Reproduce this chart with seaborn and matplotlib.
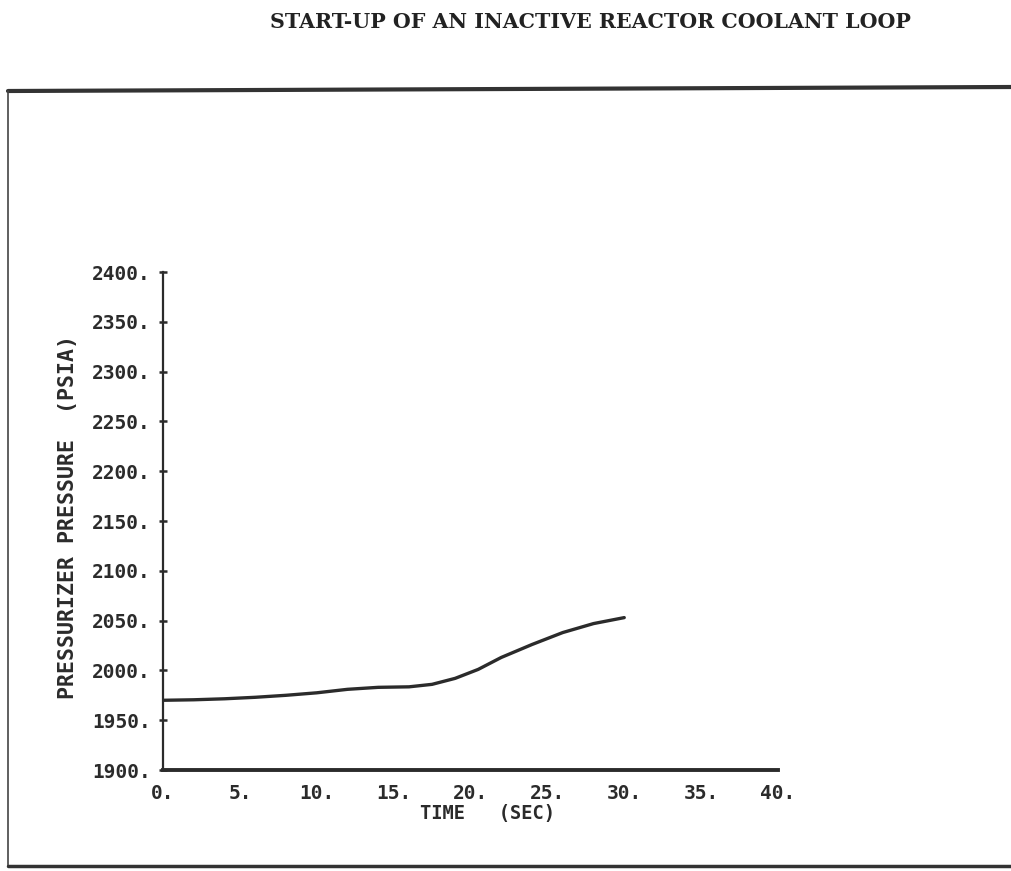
import matplotlib
matplotlib.use("Agg")
import matplotlib.pyplot as plt
from matplotlib.lines import Line2D
import seaborn as sns
import pandas as pd

# ---- data ----
time_sec = [0.0, 2.0, 4.0, 6.0, 8.0, 10.0, 12.0, 14.0, 16.0, 17.5, 19.0,
            20.5, 22.0, 24.0, 26.0, 28.0, 30.0]
pressure_psia = [1970, 1970.5, 1971.5, 1973, 1975, 1977.5, 1981, 1983, 1983.5,
                 1986, 1992, 2001, 2013, 2026, 2038, 2047, 2053]
x_ticks = [0, 5, 10, 15, 20, 25, 30, 35, 40]
y_ticks = [1900, 1950, 2000, 2050, 2100, 2150, 2200, 2250, 2300, 2350, 2400]
title = "START-UP OF AN INACTIVE REACTOR COOLANT LOOP"
x_label = "TIME   (SEC)"
y_label = "PRESSURIZER PRESSURE  (PSIA)"

sns.set_style("white")
plt.rcParams["font.family"] = ["DejaVu Sans Mono", "DejaVu Sans"]
ink = "#2b2b2b"

fig = plt.figure(figsize=(10.11, 8.71), dpi=100)
W, H = 1011, 871
ax = fig.add_axes([163 / W, 1 - 770 / H, 615 / W, 498 / H])

df = pd.DataFrame({"t": time_sec, "p": pressure_psia})
sns.lineplot(data=df, x="t", y="p", ax=ax, color=ink, linewidth=2.4)

ax.set_xlim(0, 40)
ax.set_ylim(1900, 2400)
ax.set_xticks(x_ticks)
ax.set_xticklabels([f"{v}." for v in x_ticks])
ax.set_yticks(y_ticks)
ax.set_yticklabels([f"{v}." for v in y_ticks])

for side in ("top", "right"):
    ax.spines[side].set_visible(False)
ax.spines["left"].set_linewidth(1.6)
ax.spines["bottom"].set_linewidth(2.8)
for side in ("left", "bottom"):
    ax.spines[side].set_color(ink)

ax.tick_params(axis="y", left=True, direction="inout", length=6, width=1.8,
               color=ink, pad=6.0, labelsize=14, labelcolor=ink)
ax.tick_params(axis="x", bottom=False, length=0, pad=10, labelsize=14,
               labelcolor=ink)
for lab in ax.get_xticklabels() + ax.get_yticklabels():
    lab.set_fontweight("bold")

ax.set_xlabel(x_label, fontsize=13.5, fontweight="bold", color=ink, va="center")
ax.xaxis.set_label_coords((488 - 163) / 615, -(813 - 770) / 498)
ax.set_ylabel(y_label, fontsize=15.5, fontweight="bold", color=ink, va="center")
ax.yaxis.set_label_coords((68 - 163) / 615, (770 - 517) / 498)

fig.text(590 / W, 1 - 22 / H, title, ha="center", va="center",
         fontsize=14.8, fontweight="bold", color="#222222",
         family=["DejaVu Serif", "DejaVu Sans"])

# outer frame lines of the scanned page
fig.add_artist(Line2D([8 / W, 1.0], [1 - 91 / H, 1 - 87 / H], color="#333333", lw=3))
fig.add_artist(Line2D([8 / W, 8 / W], [1 - 91 / H, 1 - 866 / H], color="#444444", lw=1.2))
fig.add_artist(Line2D([8 / W, 1.0], [1 - 866 / H, 1 - 866 / H], color="#333333", lw=2.5))

fig.savefig("out.png", dpi=100, facecolor="white")
